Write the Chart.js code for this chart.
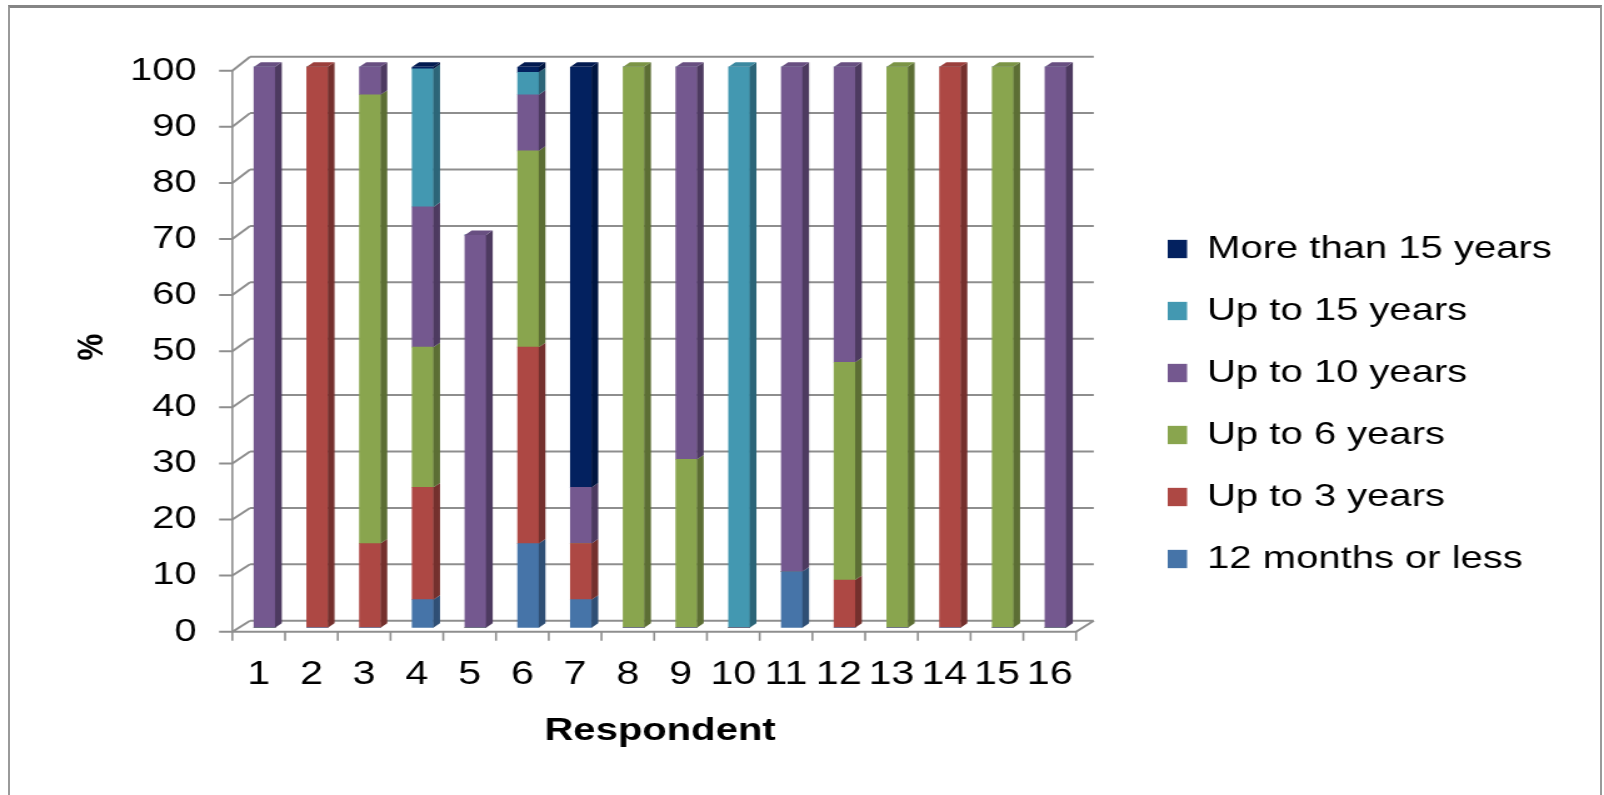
<!DOCTYPE html>
<html>
<head>
<meta charset="utf-8">
<script src="https://cdn.jsdelivr.net/npm/chart.js@4.4.1/dist/chart.umd.min.js"></script>
<style>
  html, body { margin: 0; padding: 0; background: #ffffff; overflow: hidden; }
  #frame {
    position: absolute; left: 8px; top: 5px; width: 1594px; height: 830px;
    box-sizing: border-box; border: 2px solid #9a9a9a; border-top: 3px solid #858585;
  }
  /* the chart is laid out on a narrower canvas and widened horizontally */
  #stretch {
    position: absolute; left: 0; top: 0; width: 1283px; height: 795px;
    transform: scaleX(1.25019); transform-origin: 0 0;
  }
</style>
</head>
<body>
<div id="frame"></div>
<div id="stretch"><canvas id="chart" width="1283" height="795"></canvas></div>
<script>
// ---- data -------------------------------------------------------------
const respondents = ['1', '2', '3', '4', '5', '6', '7', '8', '9', '10', '11', '12', '13', '14', '15', '16'];
const seriesNames = ['12 months or less', 'Up to 3 years', 'Up to 6 years', 'Up to 10 years', 'Up to 15 years', 'More than 15 years'];
const months12OrLess = [0, 0, 0, 5, 0, 15, 5, 0, 0, 0, 10, 0, 0, 0, 0, 0];
const upTo3Years     = [0, 100, 15, 20, 0, 35, 10, 0, 0, 0, 0, 8.5, 0, 100, 0, 0];
const upTo6Years     = [0, 0, 80, 25, 0, 35, 0, 100, 30, 0, 0, 38.8, 100, 0, 100, 0];
const upTo10Years    = [100, 0, 5, 25, 70, 10, 10, 0, 70, 0, 90, 52.7, 0, 0, 0, 100];
const upTo15Years    = [0, 0, 0, 24.6, 0, 4, 0, 0, 0, 100, 0, 0, 0, 0, 0, 0];
const over15Years    = [0, 0, 0, 0.4, 0, 1, 75, 0, 0, 0, 0, 0, 0, 0, 0, 0];
const yTickValues    = [0, 10, 20, 30, 40, 50, 60, 70, 80, 90, 100];

// ---- styles -----------------------------------------------------------
const frontColors = ['#4674a8', '#ad4844', '#89a54e', '#74588f', '#4398b1', '#03215f'];
const sideColors  = ['#2f4f75', '#74302d', '#5c6e34', '#4d3a60', '#2c6578', '#001540'];
const topColors   = ['#3f6899', '#9b3f3c', '#7b9446', '#684f81', '#3c89a0', '#021a50'];
const gridColor = '#8e8e8e';
const FONT = "'Liberation Sans', Arial, sans-serif";

// depth offsets of the box (front plane, back wall, bar sides) relative to the bar plane
const D = {
  frontDx: -4.67, frontDy: 4,
  backDx: 9.5, backDy0: -7, backDySlope: -0.03,
  sideDx: 5.4, sideDy: 4.5,
  tickLen: 10.6, catTick: 9
};

const seriesValues = [months12OrLess, upTo3Years, upTo6Years, upTo10Years, upTo15Years, over15Years];

// walls, floor, gridlines and the bar sides / tops
const box3d = {
  id: 'box3d',
  beforeDatasetsDraw(chart) {
    const { ctx, chartArea: ca, scales: { x, y } } = chart;
    const fL = ca.left + D.frontDx, fR = ca.right + D.frontDx;
    const bL = ca.left + D.backDx, bR = ca.right + D.backDx;
    const back = v => y.getPixelForValue(v) + D.backDy0 + D.backDySlope * v;
    const front = v => y.getPixelForValue(v) + D.frontDy;
    ctx.save();
    ctx.strokeStyle = gridColor;
    ctx.lineWidth = 2;
    ctx.beginPath();
    yTickValues.forEach(v => {
      ctx.moveTo(bL, back(v)); ctx.lineTo(bR, back(v));
      ctx.moveTo(fL - D.tickLen, front(v)); ctx.lineTo(fL, front(v)); ctx.lineTo(bL, back(v));
    });
    ctx.moveTo(fL, front(0)); ctx.lineTo(fR, front(0)); ctx.lineTo(bR, back(0));
    ctx.stroke();

    ctx.lineWidth = 1.6;
    ctx.beginPath();
    ctx.moveTo(fL, front(y.max)); ctx.lineTo(fL, front(0));
    const n = x.ticks.length;
    const step = (ca.right - ca.left) / n;
    for (let k = 0; k <= n; k++) {
      const xx = fL + k * step;
      ctx.moveTo(xx, front(0)); ctx.lineTo(xx, front(0) + D.catTick);
    }
    ctx.stroke();
    ctx.restore();
  },
  afterDatasetsDraw(chart) {
    const { ctx } = chart;
    const tops = [];
    ctx.save();
    chart.getSortedVisibleDatasetMetas().forEach(meta => {
      meta.data.forEach((el, j) => {
        const { x: cx, y: top, base, width } = el.getProps(['x', 'y', 'base', 'width'], true);
        if (Math.abs(base - top) < 0.01) return;
        const l = cx - width / 2, r = cx + width / 2;
        ctx.fillStyle = sideColors[meta.index];
        ctx.beginPath();
        ctx.moveTo(r, top);
        ctx.lineTo(r + D.sideDx, top - D.sideDy);
        ctx.lineTo(r + D.sideDx, base - D.sideDy);
        ctx.lineTo(r, base);
        ctx.closePath();
        ctx.fill();
        if (!tops[j] || top < tops[j].top) tops[j] = { top, l, r, idx: meta.index };
      });
    });
    tops.forEach(t => {
      if (!t) return;
      ctx.fillStyle = topColors[t.idx];
      ctx.beginPath();
      ctx.moveTo(t.l, t.top);
      ctx.lineTo(t.l + D.sideDx, t.top - D.sideDy);
      ctx.lineTo(t.r + D.sideDx, t.top - D.sideDy);
      ctx.lineTo(t.r, t.top);
      ctx.closePath();
      ctx.fill();
    });
    ctx.restore();
  }
};

// place the legend column beside the plot
const legendPlace = {
  id: 'legendPlace',
  afterLayout(chart) {
    const lg = chart.legend;
    if (!lg) return;
    lg.left = 904; lg.right = 1283; lg.width = lg.right - lg.left;
    lg.top = 203; lg.bottom = 700; lg.height = lg.bottom - lg.top;
  }
};

new Chart(document.getElementById('chart'), {
  type: 'bar',
  data: {
    labels: respondents,
    datasets: seriesNames.map((name, i) => ({
      label: name,
      data: seriesValues[i],
      backgroundColor: frontColors[i],
      borderWidth: 0,
      barThickness: 16.8
    }))
  },
  options: {
    responsive: false,
    animation: false,
    events: [],
    layout: { padding: { left: 0, top: 66.7, right: 416.6, bottom: 0 } },
    plugins: {
      legend: {
        position: 'right',
        align: 'start',
        reverse: true,
        maxWidth: 1,
        labels: {
          font: { family: FONT, size: 32 },
          color: '#000000',
          boxWidth: 15.5,
          boxHeight: 18.3,
          padding: 30
        }
      },
      tooltip: { enabled: false }
    },
    scales: {
      x: {
        stacked: true,
        grid: { display: false, drawTicks: false },
        border: { display: false },
        ticks: {
          font: { family: FONT, size: 33 },
          color: '#000000',
          padding: 27,
          labelOffset: -4.67,
          autoSkip: false,
          maxRotation: 0
        },
        title: {
          display: true,
          text: 'Respondent',
          font: { family: FONT, size: 32, weight: 'bold' },
          color: '#000000',
          padding: { top: 0, bottom: 44.8 }
        },
        afterFit(scale) { scale.height = 167.3; }
      },
      y: {
        stacked: true,
        min: 0,
        max: 100,
        grid: { display: false, drawTicks: false },
        border: { display: false },
        ticks: {
          stepSize: 10,
          font: { family: FONT, size: 32 },
          color: '#000000',
          padding: 33.1,
          labelOffset: 4
        },
        title: {
          display: true,
          text: '%',
          font: { family: FONT, size: 30, weight: 'bold' },
          color: '#000000',
          padding: { top: 55.6, bottom: 0 }
        },
        afterFit(scale) { scale.width = 190.5; }
      }
    }
  },
  plugins: [box3d, legendPlace]
});
</script>
</body>
</html>
